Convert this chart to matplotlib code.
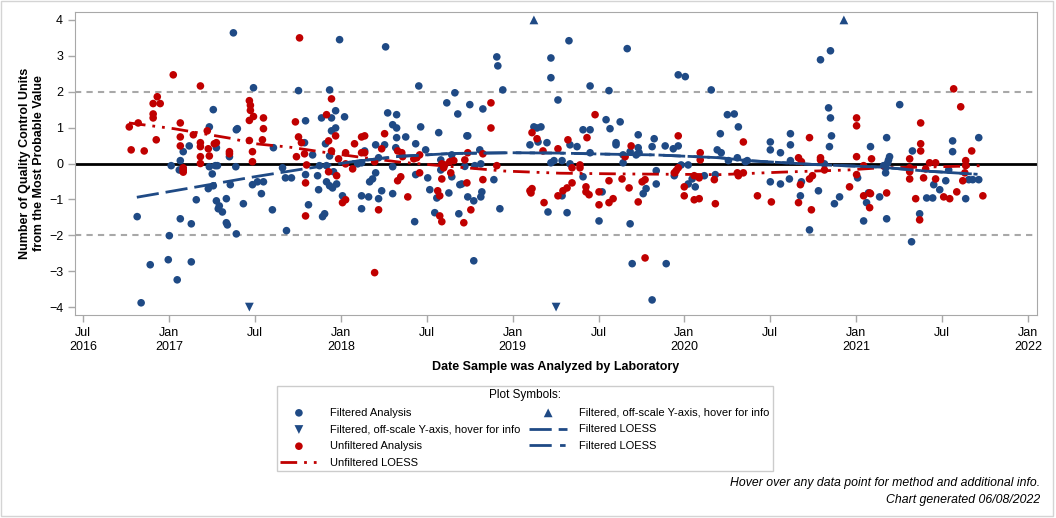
import matplotlib
matplotlib.use("Agg")
import matplotlib.pyplot as plt
from matplotlib.patches import Rectangle

plt.rcParams['font.family'] = ['Liberation Sans', 'DejaVu Sans']

BLUE = '#1f4a85'
RED = '#c00000'
GRID_GRAY = '#a8a8a8'

# unfiltered analyses: decimal year of analysis, QC units from MPV
unf_year = [2016.769, 2016.780, 2016.821, 2016.856, 2016.908, 2016.908, 2016.908, 2016.926, 2016.932, 2016.949,
            2017.025, 2017.066, 2017.066, 2017.066, 2017.083, 2017.083, 2017.083, 2017.142, 2017.183, 2017.183,
            2017.183, 2017.183, 2017.183, 2017.223, 2017.229, 2017.235, 2017.264, 2017.276, 2017.352, 2017.352,
            2017.468, 2017.474, 2017.474, 2017.468, 2017.492, 2017.550, 2017.550, 2017.544, 2017.468, 2017.486, 2017.486,
            2017.736, 2017.754, 2017.771, 2017.742, 2017.789, 2017.801, 2017.795, 2017.795, 2017.760,
            2017.946, 2017.917, 2017.970, 2017.929, 2017.946, 2017.987, 2017.929, 2017.976, 2018.028, 2018.028,
            2018.069, 2018.010, 2018.028,
            2018.080, 2018.121, 2018.139, 2018.121, 2018.139, 2018.197, 2018.255, 2018.238, 2018.331, 2018.331,
            2018.220, 2018.197,
            2018.355, 2018.360, 2018.425, 2018.442, 2018.459, 2018.349, 2018.390, 2018.459,
            2018.588, 2018.605, 2018.599, 2018.634, 2018.658, 2018.588, 2018.640, 2018.564, 2018.576, 2018.576,
            2018.588, 2018.716,
            2018.722, 2018.739, 2018.734, 2018.757, 2018.827, 2018.827, 2018.908, 2018.874, 2018.874,
            2019.113, 2019.142, 2019.177, 2019.101, 2019.113, 2019.107, 2019.183, 2019.264, 2019.264,
            2019.480, 2019.322, 2019.433, 2019.690, 2019.655, 2019.964, 2020.092, 2020.092,
            2019.346, 2019.392, 2019.392, 2019.346, 2019.293, 2019.317, 2019.427, 2019.427, 2019.445, 2019.503,
            2019.503, 2019.561, 2019.561, 2019.585, 2019.637, 2019.678, 2019.731, 2019.754, 2019.771, 2019.771,
            2019.941, 2019.952, 2019.964, 2019.999, 2019.999, 2020.057, 2020.057, 2020.086, 2020.086, 2020.174,
            2020.180,
            2020.343, 2020.728, 2021.002, 2021.002, 2021.002, 2021.089, 2020.664, 2020.681, 2020.792, 2020.792,
            2020.815,
            2020.308, 2020.314, 2020.343, 2020.675, 2020.728, 2020.745, 2021.002, 2021.043, 2020.961, 2021.043,
            2021.078, 2021.083, 2021.078,
            2020.425, 2020.506, 2020.664, 2020.739,
            2021.567, 2021.608, 2021.375, 2021.375, 2021.375, 2021.672, 2021.311, 2021.427, 2021.462, 2021.311,
            2021.311, 2021.311, 2021.392, 2021.404, 2021.462, 2021.637, 2021.637, 2021.632, 2021.620, 2021.177,
            2021.346, 2021.509, 2021.544, 2021.585, 2021.737, 2021.369]
unf_value = [1.02, 0.38, 1.13, 0.35, 1.67, 1.38, 1.27, 0.66, 1.86, 1.67,
             2.47, 1.13, 0.74, 0.49, -0.12, -0.18, -0.24, 0.80, 2.16, 0.58,
             0.47, 0.19, 0.00, 0.91, 0.41, 0.21, 0.55, 0.58, 0.33, 0.27,
             1.75, 1.62, 1.48, 1.20, 1.31, 1.27, 0.97, 0.66, 0.64, 0.33, 0.05,
             1.16, 0.74, 0.58, 0.19, 0.27, -0.04, -0.54, -1.46, 3.50,
             1.80, 1.36, 0.77, 0.63, 0.35, 0.13, -0.23, -0.34, 0.30, -0.01,
             -0.15, -1.09, -1.01,
             0.55, 0.74, 0.77, 0.30, 0.30, 0.05, 0.83, 0.41, 0.35, -0.48,
             -1.29, -3.04,
             0.30, 0.19, 0.13, 0.16, 0.24, -0.37, -0.93, -0.26,
             -0.01, -0.04, -0.12, 0.05, 0.08, -0.43, -0.26, -0.76, -0.90, -1.46,
             -1.62, -1.65,
             0.10, 0.30, -0.54, -1.29, 0.27, -0.45, -0.06, 1.69, 0.99,
             0.86, 0.69, 0.35, -0.76, -0.70, -0.82, -1.09, 0.41, -0.90,
             1.36, 0.66, 0.72, 0.49, 0.19, 0.77, 0.30, 0.10,
             -0.12, -0.04, -0.12, -0.54, -0.76, -0.68, -0.65, -0.79, -0.87, -0.79,
             -1.15, -0.48, -1.09, -0.98, -0.43, -0.68, -1.07, -0.51, -0.45, -2.63,
             -0.26, -0.20, -0.12, -0.65, -0.90, -0.34, -1.01, -0.98, -0.40, -0.45,
             -1.12,
             0.60, 0.72, 1.27, 1.05, 0.19, 0.13, 0.16, 0.05, 0.16, 0.10,
             -0.18,
             -0.26, -0.34, -0.26, -0.59, -0.43, -0.34, -0.31, -0.06, -0.65, -0.90,
             -0.82, -0.84, -1.23,
             -0.90, -1.07, -1.09, -1.29,
             2.08, 1.58, 1.13, 0.55, 0.35, 0.35, 0.13, 0.02, 0.02, -0.12,
             -0.23, -0.43, -0.40, -0.15, -0.43, 0.08, -0.06, -0.26, -0.48, -0.82,
             -0.98, -0.93, -0.98, -0.79, -0.90, -1.57]

# filtered analyses
filt_year = [2017.375, 2017.258, 2017.235, 2017.392, 2017.398, 2017.118, 2017.083, 2017.276, 2017.013, 2017.066,
             2017.060, 2017.078, 2017.235, 2017.252, 2017.270, 2017.282, 2017.389, 2017.352, 2017.357, 2017.258,
             2017.229, 2017.159, 2017.276, 2017.293, 2017.287, 2017.311, 2017.334, 2017.334, 2017.340, 2017.392,
             2016.815, 2017.066, 2017.130, 2017.002, 2016.891, 2016.996, 2017.130, 2017.048, 2016.838,
             2017.993, 2018.261, 2017.492, 2017.754, 2017.935, 2017.795, 2017.888, 2017.946, 2017.970, 2018.022,
             2017.946, 2017.970, 2017.911, 2017.608, 2017.789, 2017.836, 2017.935, 2017.661, 2017.678, 2017.713,
             2017.795, 2017.865, 2017.876, 2017.917, 2017.958, 2017.917, 2017.935, 2017.952, 2017.976, 2017.871,
             2018.010, 2017.486, 2017.515, 2017.550, 2017.538, 2017.433, 2017.602, 2017.812, 2017.894, 2017.906,
             2017.684,
             2018.098, 2018.121, 2018.139, 2018.203, 2018.220, 2018.203, 2018.168, 2018.185, 2018.121, 2018.162,
             2018.238, 2018.220, 2018.121, 2018.302, 2018.273, 2018.302, 2018.325, 2018.255, 2018.325, 2018.320,
             2018.302, 2018.325,
             2018.908, 2018.914, 2019.223, 2019.223, 2018.454, 2018.664, 2018.617, 2018.751, 2018.943, 2018.827,
             2018.681, 2018.465, 2018.378, 2018.570, 2018.734, 2018.739, 2018.436, 2018.494, 2018.809, 2018.582,
             2018.646, 2018.722, 2018.780, 2018.815, 2018.582, 2018.436, 2018.506, 2018.646, 2018.891, 2018.693,
             2018.704, 2018.518, 2018.559, 2018.629, 2018.739, 2018.774, 2018.815, 2018.821, 2018.547, 2018.687,
             2018.430, 2018.926, 2018.774,
             2019.124, 2019.142, 2019.165, 2019.101, 2019.148, 2019.200, 2019.264, 2019.206, 2019.223, 2019.241,
             2019.328, 2019.667, 2019.964, 2020.005, 2019.451, 2019.561, 2020.156, 2019.544, 2019.626, 2019.410,
             2019.451, 2019.567, 2019.731, 2019.824, 2019.602, 2019.602, 2019.334, 2019.375, 2019.812, 2019.888,
             2019.935, 2019.964, 2020.209, 2020.191, 2019.288, 2019.451, 2019.643, 2019.643, 2019.684, 2019.719,
             2019.736, 2019.731,
             2019.334, 2019.410, 2019.836, 2019.836, 2019.941, 2019.981, 2020.022, 2020.045, 2020.022, 2020.063,
             2020.116, 2020.180, 2019.288, 2019.521, 2019.760, 2019.777, 2019.317, 2019.503, 2019.684, 2019.696,
             2019.894, 2019.812,
             2020.792, 2020.850, 2020.839, 2020.850, 2020.250, 2020.290, 2020.314, 2020.856, 2020.844, 2020.617,
             2020.617, 2020.500, 2020.500, 2020.559, 2021.083, 2020.214, 2020.308, 2020.256, 2020.355, 2020.366,
             2020.617, 2020.815, 2020.500, 2020.559, 2020.611, 2020.681, 2020.675, 2020.780, 2020.873, 2020.903,
             2020.728, 2021.008, 2021.043, 2021.060, 2021.071, 2021.136,
             2021.253, 2021.177, 2021.561, 2021.561, 2021.713, 2021.327, 2021.194, 2021.188, 2021.183, 2021.159,
             2021.171, 2021.171, 2021.538, 2021.451, 2021.486, 2021.521, 2021.655, 2021.678, 2021.713, 2021.410,
             2021.445, 2021.637, 2021.177, 2021.369, 2021.322]
filt_value = [3.64, 1.50, 1.02, 0.94, 0.97, 0.49, 0.33, 0.44, -0.06, 0.08,
              -0.18, -0.20, -0.09, -0.29, -0.06, -0.06, -0.09, 0.19, -0.59, -0.62,
              -0.70, -1.01, -1.04, -1.18, -1.26, -1.35, -0.98, -1.65, -1.71, -1.96,
              -1.48, -1.54, -1.68, -2.01, -2.82, -2.68, -2.74, -3.24, -3.88,
              3.45, 3.25, 2.11, 2.03, 2.05, 1.19, 1.27, 1.27, 1.47, 1.30,
              0.91, 0.99, 0.55, 0.44, 0.58, 0.24, 0.21, -0.12, -0.40, -0.40,
              -0.31, -0.34, -0.06, -0.06, -0.23, -0.51, -0.62, -0.68, -0.57, -0.73,
              -0.90, -0.59, -0.51, -0.51, -0.84, -1.12, -1.29, -1.15, -1.48, -1.40,
              -1.87,
              -0.01, 0.02, 0.35, 0.52, 0.16, -0.26, -0.51, -0.43, -0.90, -0.93,
              -0.76, -0.98, -1.26, -0.84, 1.41, 1.08, 0.99, 0.52, 0.72, 0.44,
              -0.09, 1.36,
              2.97, 2.72, 2.94, 2.39, 2.16, 1.97, 1.69, 1.64, 2.05, 1.52,
              1.38, 1.02, 0.74, 0.86, 0.77, 0.77, 0.55, 0.38, 0.38, 0.10,
              0.24, -0.08, -0.06, -0.01, -0.18, -0.31, -0.40, -0.37, -0.45, -0.59,
              -0.57, -0.73, -0.96, -0.82, -0.93, -1.04, -0.93, -0.79, -1.37, -1.40,
              -1.62, -1.26, -2.71,
              1.02, 0.99, 1.02, 0.52, 0.60, 0.58, 1.77, -1.35, 0.02, 0.08,
              3.42, 3.20, 2.47, 2.42, 2.16, 2.03, 2.05, 1.22, 1.16, 0.94,
              0.94, 0.97, 0.80, 0.69, 0.58, 0.52, 0.52, 0.47, 0.47, 0.49,
              0.41, 0.49, 0.83, 0.38, 0.08, 0.30, 0.02, 0.24, 0.33, 0.24,
              0.30, 0.44,
              -0.01, -0.37, -0.20, -0.57, -0.34, -0.04, -0.04, -0.43, -0.57, -0.65,
              -0.34, -0.31, -0.90, -0.79, -0.84, -0.70, -1.37, -1.60, -1.68, -2.79,
              -2.79, -3.80,
              2.89, 3.14, 1.55, 1.27, 1.36, 1.38, 1.02, 0.77, 0.47, 0.83,
              0.52, 0.60, 0.38, 0.30, 0.47, 0.30, 0.16, 0.08, 0.05, 0.08,
              0.08, -0.01, -0.51, -0.57, -0.43, -0.51, -0.90, -0.76, -1.12, -0.93,
              -1.85, -0.40, -1.60, -1.09, -0.82, -0.93,
              1.64, 0.72, 0.63, 0.33, 0.72, 0.35, 0.19, 0.10, 0.02, -0.06,
              -0.12, -0.26, -0.18, -0.59, -0.73, -0.48, -0.45, -0.45, -0.45, -0.96,
              -0.96, -0.98, -1.54, -1.40, -2.18]

# filtered analyses beyond the y-axis range (drawn at the axis limit)
offscale_up_year = [2019.124, 2020.928]
offscale_down_year = [2017.468, 2019.253]

# LOESS fits
unf_loess_year = [2016.767, 2017.029, 2017.373, 2017.484, 2017.711, 2017.950, 2018.108, 2018.341, 2018.633,
                  2018.953, 2019.274, 2019.636, 2020.207, 2020.569, 2020.953, 2021.140, 2021.402, 2021.735]
unf_loess_value = [1.13, 0.97, 0.69, 0.56, 0.45, 0.28, 0.18, 0.04, -0.08,
                   -0.21, -0.27, -0.29, -0.31, -0.24, -0.18, -0.12, -0.10, -0.06]
filt_loess_year = [2016.813, 2017.175, 2017.484, 2017.758, 2018.067, 2018.341, 2018.650, 2018.994, 2019.274,
                   2019.554, 2019.828, 2020.207, 2020.370, 2020.761, 2021.140, 2021.402, 2021.706]
filt_loess_value = [-0.94, -0.64, -0.38, -0.17, 0.05, 0.20, 0.28, 0.30, 0.29,
                    0.26, 0.24, 0.16, 0.08, -0.03, -0.10, -0.21, -0.30]

tick_pos = [2016.5, 2017, 2017.5, 2018, 2018.5, 2019, 2019.5, 2020, 2020.5, 2021, 2021.5, 2022]
tick_labels = ['Jul\n2016', 'Jan\n2017', 'Jul', 'Jan\n2018', 'Jul', 'Jan\n2019', 'Jul',
               'Jan\n2020', 'Jul', 'Jan\n2021', 'Jul', 'Jan\n2022']

fig = plt.figure(figsize=(10.56, 5.18), dpi=100)
ax = fig.add_axes([0.0710, 0.3919, 0.9110, 0.5849])

ax.axhline(0, color='black', lw=2, zorder=1)
for yy in (2, -2):
    ax.axhline(yy, color=GRID_GRAY, lw=1.5, ls=(0, (3, 2.5)), zorder=1)

h_filt = ax.scatter(filt_year, filt_value, s=30, color=BLUE, edgecolors='none', zorder=3,
                    label='Filtered Analysis')
h_down = ax.scatter(offscale_down_year, [-4] * len(offscale_down_year), s=40, marker='v', color=BLUE,
                    edgecolors='none', zorder=3, label='Filtered, off-scale Y-axis, hover for info')
h_unf = ax.scatter(unf_year, unf_value, s=30, color=RED, edgecolors='none', zorder=3,
                   label='Unfiltered Analysis')
h_up = ax.scatter(offscale_up_year, [4] * len(offscale_up_year), s=40, marker='^', color=BLUE,
                  edgecolors='none', zorder=3, label='Filtered, off-scale Y-axis, hover for info')

h_uloess, = ax.plot(unf_loess_year, unf_loess_value, color=RED, lw=2, ls=(0, (6, 2.5, 1, 2.5, 1, 2.5)),
                    zorder=4, label='Unfiltered LOESS')
h_floess1, = ax.plot(filt_loess_year, filt_loess_value, color=BLUE, lw=2, ls=(0, (8, 2.5)),
                     zorder=4, label='Filtered LOESS')
h_floess2, = ax.plot(filt_loess_year[4:], filt_loess_value[4:], color=BLUE, lw=2, ls=(0, (8, 3, 2, 3)),
                     zorder=4, label='Filtered LOESS')

ax.set_xlim(2016.453, 2022.052)
ax.set_ylim(-4.22, 4.22)
ax.set_xticks(tick_pos)
ax.set_xticklabels(tick_labels)
ax.set_yticks(range(-4, 5))
for sp in ax.spines.values():
    sp.set_color(GRID_GRAY)
ax.tick_params(colors=GRID_GRAY, labelcolor='black', labelsize=9, length=5, width=1)

ax.set_xlabel('Date Sample was Analyzed by Laboratory', fontsize=9, fontweight='bold', labelpad=6)
ax.set_ylabel('Number of Quality Control Units\nfrom the Most Probable Value', fontsize=9,
              fontweight='bold', labelpad=3)

handles = [h_filt, h_down, h_unf, h_uloess, h_up, h_floess1, h_floess2]
leg = fig.legend(handles, [h.get_label() for h in handles], loc='upper center',
                 bbox_to_anchor=(0.497, 0.266), ncol=2, title='Plot Symbols:', fontsize=8,
                 title_fontsize=8.5, frameon=True, fancybox=False, edgecolor='#c0c0c0',
                 handlelength=3.4, handletextpad=1.1, columnspacing=0.8, labelspacing=0.6,
                 borderpad=0.3, scatterpoints=1)
leg.get_frame().set_linewidth(1)

fig.text(0.985, 1 - 483 / 518, 'Hover over any data point for method and additional info.',
         ha='right', va='center', style='italic', fontsize=8.8)
fig.text(0.985, 1 - 500 / 518, 'Chart generated 06/08/2022',
         ha='right', va='center', style='italic', fontsize=8.8)

fig.patches.append(Rectangle((0.001, 0.003), 0.996, 0.995, transform=fig.transFigure,
                             fill=False, edgecolor='#d4d4d4', lw=1))

fig.savefig('out.png', dpi=100)
